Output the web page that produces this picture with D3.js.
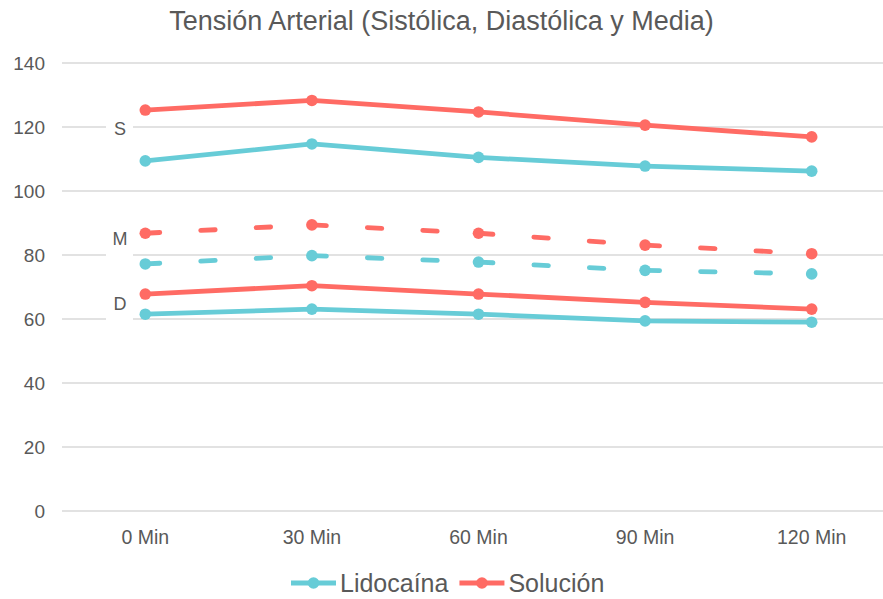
<!DOCTYPE html>
<html>
<head>
<meta charset="utf-8">
<script src="https://cdn.jsdelivr.net/npm/d3@7"></script>
<style>
  html, body { margin: 0; padding: 0; background: #fff; }
  svg { display: block; font-family: "Liberation Sans", Arial, sans-serif; }
</style>
</head>
<body>
<svg id="chart" width="883" height="599"></svg>
<script>
// Blood pressure readings over time, two treatment groups
const categories = ["0 Min", "30 Min", "60 Min", "90 Min", "120 Min"];
const yTicks = [0, 20, 40, 60, 80, 100, 120, 140];

const lidoSistolica   = [109.4, 114.7, 110.5, 107.8, 106.2];
const lidoMedia       = [77.2, 79.8, 77.8, 75.2, 74.1];
const lidoDiastolica  = [61.5, 63.1, 61.5, 59.4, 59.0];

const solSistolica    = [125.3, 128.3, 124.7, 120.6, 116.9];
const solMedia        = [86.8, 89.4, 86.8, 83.1, 80.4];
const solDiastolica   = [67.8, 70.4, 67.8, 65.2, 63.1];

const groupNames  = ["Lidocaína", "Solución"];
const groupColors = ["#67CCD7", "#FF6B64"];

// in-plot labels for the three measures (text, value on the y scale)
const measureLabels = ["S", "M", "D"];
const measureLabelValues = [119.6, 85.3, 64.7];

const svg = d3.select("#chart");
const W = 883, H = 599;
const textColor = "#595959";

const x = d3.scaleBand().domain(categories).range([62, 895]).padding(0);
const y = d3.scaleLinear().domain([0, 140]).range([511, 63]);
const cx = d => x(d) + x.bandwidth() / 2;

// title
svg.append("text")
  .attr("x", W / 2).attr("y", 30)
  .attr("text-anchor", "middle")
  .attr("fill", textColor)
  .style("font-size", "27px")
  .text("Tensión Arterial (Sistólica, Diastólica y Media)");

// gridlines
const grid = svg.append("g");
grid.selectAll("line").data(yTicks).join("line")
  .attr("x1", 62).attr("x2", W)
  .attr("y1", d => y(d)).attr("y2", d => y(d))
  .attr("stroke", "#D9D9D9").attr("stroke-width", 1.3);

// y axis labels
const yAxis = d3.axisLeft(y).tickValues(yTicks).tickSize(0).tickPadding(0);
svg.append("g")
  .attr("transform", "translate(45,0)")
  .call(yAxis)
  .call(g => g.select(".domain").remove())
  .call(g => g.selectAll("text")
    .attr("fill", textColor)
    .style("font-size", "19px")
    .style("font-family", "Liberation Sans, Arial, sans-serif"));

// x axis labels
const xAxis = d3.axisBottom(x).tickSize(0).tickPadding(0);
svg.append("g")
  .attr("transform", "translate(0,530)")
  .call(xAxis)
  .call(g => g.select(".domain").remove())
  .call(g => g.selectAll("text")
    .attr("fill", textColor)
    .style("font-size", "19.5px")
    .style("font-family", "Liberation Sans, Arial, sans-serif"));

// measure labels with a white backing box that interrupts the gridline
const labelG = svg.append("g");
measureLabels.forEach((t, i) => {
  const yy = y(measureLabelValues[i]);
  labelG.append("rect")
    .attr("x", 106).attr("y", yy - 14)
    .attr("width", 27).attr("height", 32)
    .attr("fill", "#fff");
  labelG.append("text")
    .attr("x", 120).attr("y", yy + 6.5)
    .attr("text-anchor", "middle")
    .attr("fill", textColor)
    .style("font-size", "18px")
    .text(t);
});

// series
const series = [
  { values: lidoSistolica,  color: groupColors[0], dashed: false },
  { values: lidoMedia,      color: groupColors[0], dashed: true },
  { values: lidoDiastolica, color: groupColors[0], dashed: false },
  { values: solSistolica,   color: groupColors[1], dashed: false },
  { values: solMedia,       color: groupColors[1], dashed: true },
  { values: solDiastolica,  color: groupColors[1], dashed: false }
];

const line = d3.line().x(d => cx(d.cat)).y(d => y(d.v));

series.forEach(s => {
  const pts = s.values.map((v, i) => ({ cat: categories[i], v }));
  const g = svg.append("g");
  if (s.dashed) {
    // dash pattern restarts at every point
    d3.pairs(pts).forEach(pair => {
      g.append("path")
        .attr("d", line(pair))
        .attr("fill", "none")
        .attr("stroke", s.color)
        .attr("stroke-width", 4.8)
        .attr("stroke-linecap", "round")
        .attr("stroke-dasharray", "14.5,41");
    });
  } else {
    g.append("path")
      .attr("d", line(pts))
      .attr("fill", "none")
      .attr("stroke", s.color)
      .attr("stroke-width", 4.8)
      .attr("stroke-linejoin", "round");
  }
  g.selectAll("circle").data(pts).join("circle")
    .attr("cx", d => cx(d.cat)).attr("cy", d => y(d.v))
    .attr("r", 5.8)
    .attr("fill", s.color);
});

// legend
const legend = svg.append("g");
const legendY = 583;
let lx = 291;
groupNames.forEach((name, i) => {
  const item = legend.append("g");
  item.append("line")
    .attr("x1", lx).attr("x2", lx + 45)
    .attr("y1", legendY).attr("y2", legendY)
    .attr("stroke", groupColors[i]).attr("stroke-width", 4.8);
  item.append("circle")
    .attr("cx", lx + 22.5).attr("cy", legendY).attr("r", 5.8)
    .attr("fill", groupColors[i]);
  const txt = item.append("text")
    .attr("x", lx + 49).attr("y", legendY + 9)
    .attr("fill", textColor)
    .style("font-size", "25px")
    .text(name);
  lx = lx + 49 + txt.node().getComputedTextLength() + 11;
});
</script>
</body>
</html>
